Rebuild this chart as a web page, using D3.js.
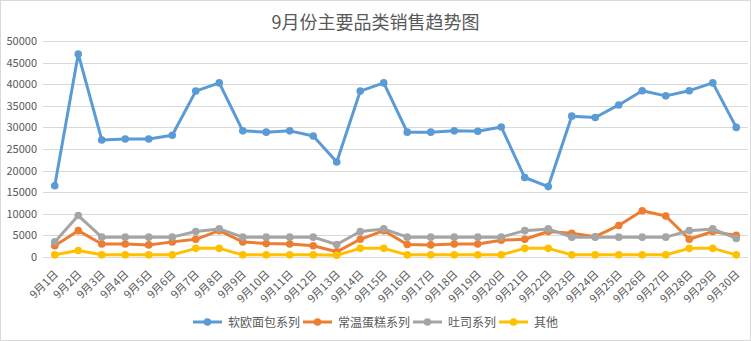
<!DOCTYPE html>
<html><head><meta charset="utf-8">
<script src="https://cdn.jsdelivr.net/npm/d3@7/dist/d3.min.js"></script>
<style>html,body{margin:0;padding:0;background:#fff;}svg{display:block;font-family:"Noto Sans CJK SC","Noto Sans",sans-serif;}</style>
</head><body>
<svg id="c" width="751" height="341"></svg>
<script>
const categories = d3.range(1, 31).map(d => `9月${d}日`);
const seriesNames = ["软欧面包系列", "常温蛋糕系列", "吐司系列", "其他"];
const softBread = [16500,47000,27100,27300,27300,28200,38400,40300,29200,28900,29200,28000,22000,38400,40300,28900,28900,29200,29100,30100,18400,16300,32600,32300,35200,38500,37300,38500,40300,30000];
const cake = [2600,6100,3000,3000,2800,3500,4100,6100,3500,3100,3000,2600,1200,4100,6100,2900,2800,3000,3000,3900,4100,5900,5500,4700,7300,10700,9500,4100,5900,5000];
const toast = [3500,9600,4600,4600,4600,4600,5900,6500,4600,4600,4600,4600,2900,5900,6500,4600,4600,4600,4600,4600,6100,6500,4600,4600,4600,4600,4600,6100,6500,4300];
const others = [500,1500,500,500,500,500,2000,2000,500,500,500,500,400,2000,2000,500,500,500,500,500,2000,2000,500,500,500,500,500,2000,2000,500];
const yTicks = [0,5000,10000,15000,20000,25000,30000,35000,40000,45000,50000];
const colors = ["#5B9BD5", "#ED7D31", "#A5A5A5", "#FFC000"];
const title = "9月份主要品类销售趋势图";

const series = [softBread, cake, toast, others];
const svg = d3.select("#c");
const W = 751, H = 341;
const m = {left: 43, right: 748, top: 41, bottom: 257};

svg.append("rect").attr("x",0.5).attr("y",0.5).attr("width",W-1).attr("height",H-1)
  .attr("fill","#fff").attr("stroke","#D9D9D9");

const x = d3.scaleBand().domain(categories).range([m.left, m.right]);
const cx = d => x(d) + x.bandwidth()/2;
const y = d3.scaleLinear().domain([0, 50000]).range([m.bottom, m.top]);

// gridlines
svg.append("g").selectAll("line").data(yTicks).join("line")
  .attr("x1", m.left).attr("x2", m.right)
  .attr("y1", d => Math.round(y(d))+0.5).attr("y2", d => Math.round(y(d))+0.5)
  .attr("stroke", "#D9D9D9").attr("stroke-width", 1);

// y axis labels
const yAxis = d3.axisLeft(y).tickValues(yTicks).tickSize(0).tickPadding(0).tickFormat(d3.format("d"));
const gy = svg.append("g").attr("transform", `translate(37,0)`).call(yAxis);
gy.select(".domain").remove();
gy.selectAll("text").attr("fill","#595959").attr("font-size","11px").attr("font-family","'Noto Sans CJK SC',sans-serif");

// x axis labels
const xAxis = d3.axisBottom(x).tickSize(0).tickPadding(0);
const gx = svg.append("g").attr("transform", `translate(0,${m.bottom})`).call(xAxis);
gx.select(".domain").remove();
gx.selectAll(".tick text")
  .attr("fill","#595959").attr("font-size","11px").attr("font-family","'Noto Sans CJK SC',sans-serif")
  .attr("text-anchor","end").attr("dy",0).attr("y",0)
  .attr("transform","translate(4,18) rotate(-45)");

// lines
const line = d3.line().x((d,i) => cx(categories[i])).y(d => y(d));
series.forEach((s, k) => {
  const g = svg.append("g");
  g.append("path").datum(s).attr("d", line).attr("fill","none")
    .attr("stroke", colors[k]).attr("stroke-width", 3).attr("stroke-linejoin","round").attr("stroke-linecap","round");
  g.selectAll("circle").data(s).join("circle")
    .attr("cx", (d,i) => cx(categories[i])).attr("cy", d => y(d)).attr("r", 3.8)
    .attr("fill", colors[k]);
});

// title
svg.append("text").attr("x", 375.5).attr("y", 29).attr("text-anchor","middle")
  .attr("font-size","18px").attr("fill","#595959").text(title);

// legend
const lg = svg.append("g");
const items = lg.selectAll("g").data(seriesNames).join("g");
items.append("line").attr("x1",0).attr("x2",29).attr("y1",0).attr("y2",0)
  .attr("stroke",(d,i)=>colors[i]).attr("stroke-width",3);
items.append("circle").attr("cx",14.5).attr("cy",0).attr("r",3.8).attr("fill",(d,i)=>colors[i]);
items.append("text").attr("x",35).attr("y",4.5).attr("font-size","12px").attr("fill","#595959").text(d=>d);
let pos = 0; const offs = [];
items.each(function(){ offs.push(pos); pos += this.getBBox().width + 3; });
pos -= 3;
const start = 375.5 - pos/2;
items.attr("transform",(d,i)=>`translate(${start+offs[i]},322)`);
</script>
</body></html>
